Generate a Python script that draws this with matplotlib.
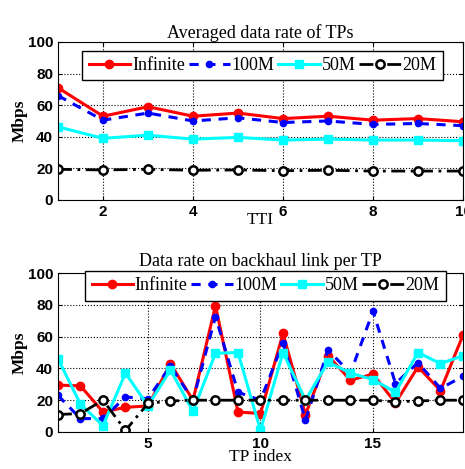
import matplotlib
matplotlib.use("Agg")
import matplotlib.pyplot as plt

tti = list(range(1, 11))
top_inf = [71, 53, 59, 53, 55, 51.5, 53, 50.5, 51.5, 49.5]
top_100 = [66, 50.5, 55, 50, 52, 49, 50, 47.8, 48.4, 47]
top_50 = [46.3, 39, 41, 38.5, 39.6, 37.9, 38.5, 37.9, 37.9, 37.5]
top_20 = [19.4, 19, 19.4, 18.8, 19, 18.5, 18.8, 18.3, 18.3, 18.3]

tp = list(range(1, 20))
bot_inf = [29.5, 29, 12.6, 15.5, 16.4, 43, 20, 79.4, 12.6, 11.6, 62, 11, 48, 32.6, 36.4, 18.3, 41, 26, 61]
bot_100 = [23, 8.4, 8.5, 22, 21, 41.5, 20, 72.6, 25, 20, 56, 7.4, 51.6, 37, 76, 30.5, 43.6, 27.4, 35]
bot_50 = [46, 17.5, 4, 37, 16.5, 39, 13, 49.5, 50, 1, 50, 20, 44, 37, 33, 25, 50, 43, 48]
bot_20 = [11, 11.6, 20, 1, 18, 19.5, 20, 20, 20, 20, 20, 20, 20, 20, 20, 19, 19.5, 20, 20]

labels = ["Infinite", "100M", "50M", "20M"]

serif = "Liberation Serif"
sans = "Liberation Sans"

fig = plt.figure(figsize=(4.65, 4.69), dpi=100)
ax1 = fig.add_axes([0.1247, 0.5736, 0.871, 0.337])
ax2 = fig.add_axes([0.1247, 0.0789, 0.871, 0.339])


def draw(ax, x, s_inf, s_100, s_50, s_20, anchor):
    ax.plot(x, s_inf, color="red", lw=2.2, marker="o", ms=6, mfc="red", mec="red", label=labels[0])
    ax.plot(x, s_100, color="blue", lw=2.2, ls=(0, (3, 2.5)), marker="o", ms=4.5, mfc="blue", mec="blue", label=labels[1])
    ax.plot(x, s_50, color="cyan", lw=2.2, marker="s", ms=6, mfc="cyan", mec="cyan", label=labels[2])
    ax.plot(x, s_20, color="black", lw=2.0, ls=(0, (5, 2, 1, 2)), marker="o", ms=6, mfc="white", mec="black", mew=1.8, label=labels[3])
    ax.set_ylim(0, 100)
    ax.set_yticks([0, 20, 40, 60, 80, 100])
    ax.grid(True, color="black", ls=":", lw=0.8)
    ax.tick_params(direction="in", top=True, right=True, length=3)
    for sp in ax.spines.values():
        sp.set_linewidth(0.8)
    leg = ax.legend(loc="upper center", ncol=4, prop={"family": serif, "size": 13},
                    handlelength=2.3, handletextpad=0.1, columnspacing=0.2,
                    borderpad=0.35, frameon=True, fancybox=False, edgecolor="black",
                    framealpha=1, borderaxespad=0.0, bbox_to_anchor=anchor)
    leg.get_frame().set_linewidth(1.0)


draw(ax1, tti, top_inf, top_100, top_50, top_20, (0.505, 0.945))
ax1.set_xlim(1, 10)
ax1.set_xticks([2, 4, 6, 8, 10])
for lab in ax1.get_xticklabels() + ax1.get_yticklabels():
    lab.set_fontfamily(sans); lab.set_fontweight("bold"); lab.set_fontsize(11)
ax1.set_title("Averaged data rate of TPs", family=serif, fontsize=13, pad=3)
ax1.set_xlabel("TTI", family=serif, fontsize=12.5, labelpad=-5)
ax1.set_ylabel("Mbps", family=serif, fontsize=12.5, fontweight="bold", labelpad=0)

draw(ax2, tp, bot_inf, bot_100, bot_50, bot_20, (0.512, 1.013))
ax2.set_xlim(1, 19)
ax2.set_xticks([5, 10, 15])
for lab in ax2.get_xticklabels() + ax2.get_yticklabels():
    lab.set_fontfamily(sans); lab.set_fontweight("bold"); lab.set_fontsize(11)
ax2.set_title("Data rate on backhaul link per TP", family=serif, fontsize=13, pad=5)
ax2.set_xlabel("TP index", family=serif, fontsize=12.5, labelpad=-1)
ax2.set_ylabel("Mbps", family=serif, fontsize=12.5, fontweight="bold", labelpad=0)

fig.savefig("out.png", dpi=100)
